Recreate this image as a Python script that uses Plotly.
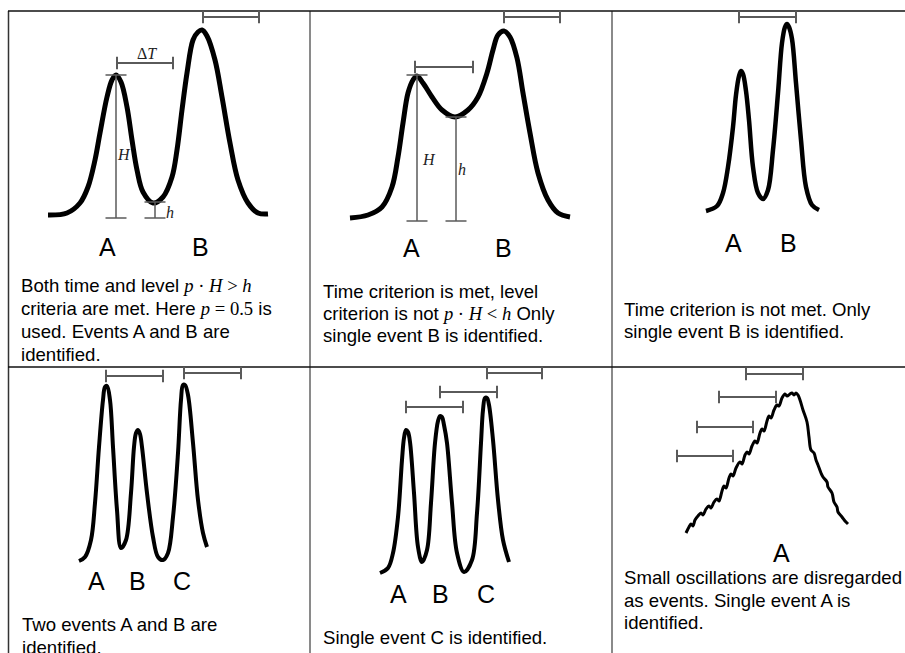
import plotly.graph_objects as go

OFF = 0
W, H = 905, 653

# ---------------- data (time t, level v; level 0 = baseline of each panel) ----------------
# Panel 1: both criteria met
p1_t = [40, 59, 72, 80, 87, 92, 99, 104, 108, 113, 119, 124, 129, 135, 145, 155, 164, 169, 174, 179, 185, 190, 194, 199, 207, 214, 222, 230, 240, 250, 260]
p1_v = [3, 5, 15, 31, 58, 85, 121, 138, 143, 136, 111, 78, 48, 26, 15, 21, 41, 68, 108, 145, 178, 186, 188, 182, 158, 121, 75, 38, 15, 5, 4]
p1_br_start = [109, 195]
p1_br_end = [165, 251]
p1_br_level = [155, 201]
p1_vert_t = [108, 147]
p1_vert_top = [143, 16]

# Panel 2: time met, level not met
p2_t = [40, 58, 72, 82, 88, 93, 98, 103, 107, 113, 122, 132, 145, 158, 168, 177, 183, 188, 194, 200, 207, 213, 220, 228, 238, 248, 260]
p2_v = [3, 6, 14, 34, 64, 98, 128, 141, 145, 138, 124, 111, 104, 111, 124, 148, 171, 186, 190, 184, 163, 128, 88, 48, 21, 8, 4]
p2_br_start = [105, 194]
p2_br_end = [163, 250]
p2_br_level = [154, 204]
p2_vert_t = [107, 146]
p2_vert_top = [146, 104]

# Panel 3: time criterion not met
p3_t = [94, 105, 111, 116, 121, 124, 127, 129, 131, 134, 137, 141, 146, 151, 156, 161, 166, 170, 173, 175, 177, 180, 184, 189, 194, 200, 207]
p3_v = [4, 9, 22, 48, 88, 120, 139, 144, 141, 124, 95, 48, 22, 16, 25, 65, 122, 172, 188, 191, 188, 176, 132, 75, 28, 10, 5]
p3_br_start = [127]
p3_br_end = [184]
p3_br_level = [198]

# Panel 4: A, B, C -> two events
p4_t = [71, 77, 83, 87, 91, 95, 97, 99, 102, 105, 109, 113, 118, 123, 126, 128, 130, 132, 134, 139, 145, 150, 155, 160, 165, 170, 173, 175, 177, 180, 185, 190, 195, 199]
p4_v = [4, 8, 25, 62, 118, 165, 178, 179, 165, 118, 55, 17, 25, 72, 118, 132, 135, 131, 118, 72, 28, 8, 5, 12, 48, 112, 165, 180, 180, 170, 122, 65, 32, 18]
p4_br_start = [98, 176]
p4_br_end = [155, 233]
p4_br_level = [189, 192]

# Panel 5: A, B, C -> single event C
p5_t = [70, 78, 83, 88, 92, 94, 96, 98, 100, 104, 108, 112, 117, 121, 125, 128, 130, 132, 134, 137, 142, 147, 154, 162, 167, 171, 173, 175, 177, 179, 183, 188, 193, 199]
p5_v = [2, 7, 22, 58, 115, 137, 145, 143, 133, 82, 28, 13, 25, 72, 132, 154, 159, 158, 150, 132, 72, 22, 3, 15, 62, 132, 165, 177, 177, 170, 135, 75, 35, 13]
p5_br_start = [96, 130, 177]
p5_br_end = [153, 187, 232]
p5_br_level = [168, 183, 202]

# Panel 6: small oscillations
p6_t = [74, 77, 79, 81, 83, 86, 89, 91, 94, 97, 99, 102, 105, 107, 110, 112, 114, 117, 119, 121, 124, 128, 130, 133, 135, 137, 140, 143, 145, 148, 150, 152, 155, 157, 159, 162, 165, 167, 170, 173, 175, 178, 180, 182, 184, 186,
        188, 191, 195, 197, 199, 202, 204, 206, 209, 211, 215, 216, 220, 222, 225, 226, 230, 233, 236]
p6_v = [7, 13, 16, 14, 20, 24, 27, 25, 31, 34, 32, 38, 41, 39, 49, 54, 52, 62, 66, 64, 72, 78, 76, 85, 88, 86, 94, 99, 97, 107, 111, 109, 119, 124, 122, 130, 135, 134, 142, 146, 144, 146, 147, 145, 147, 145,
        140, 130, 118, 103, 90, 87, 80, 75, 67, 63, 58, 53, 47, 38, 33, 28, 23, 19, 16]
p6_br_start = [134, 107, 85, 65]
p6_br_end = [191, 164, 141, 121]
p6_br_level = [166, 143, 113, 84]

# labels
MATH = "font-family:Liberation Serif"
p1_text = ["Both time and level <span style=\"%s\"><i>p</i> · <i>H</i> &gt; <i>h</i></span>" % MATH,
           "criteria are met. Here <span style=\"%s\"><i>p</i> = 0.5</span> is" % MATH,
           "used. Events A and B are",
           "identified."]
p2_text = ["Time criterion is met, level",
           "criterion is not <span style=\"%s\"><i>p</i> · <i>H</i> &lt; <i>h</i></span> Only" % MATH,
           "single event B is identified."]
p3_text = ["Time criterion is not met. Only", "single event B is identified."]
p4_text = ["Two events A and B are", "identified."]
p5_text = ["Single event C is identified."]
p6_text = ["Small oscillations are disregarded", "as events. Single event A is", "identified."]

# ---------------- layout geometry (window pixels) ----------------
def X(px):
    return (px - OFF) / W

def Y(py):
    return 1 - (py - OFF) / H

COLS = [(8, 310), (310, 612), (612, 905)]
ROWS = [(11, 367), (367, 653)]
panels = [
    dict(col=0, row=0, base=218, t=p1_t, v=p1_v, lw=5, br=(p1_br_start, p1_br_end, p1_br_level), vert=(p1_vert_t, p1_vert_top),
         text=p1_text, tx=20, tb=[292, 315, 338, 361],
         labels=[("A", 107, 247), ("B", 200, 247)]),
    dict(col=1, row=0, base=221, t=p2_t, v=p2_v, lw=5, br=(p2_br_start, p2_br_end, p2_br_level), vert=(p2_vert_t, p2_vert_top),
         text=p2_text, tx=322, tb=[298, 320, 342],
         labels=[("A", 411, 248), ("B", 503, 248)]),
    dict(col=2, row=0, base=215, t=p3_t, v=p3_v, lw=4.5, br=(p3_br_start, p3_br_end, p3_br_level), vert=None,
         text=p3_text, tx=623, tb=[316, 338],
         labels=[("A", 733, 243), ("B", 788, 243)]),
    dict(col=0, row=1, base=565, t=p4_t, v=p4_v, lw=4, br=(p4_br_start, p4_br_end, p4_br_level), vert=None,
         text=p4_text, tx=21, tb=[631, 654],
         labels=[("A", 96, 581), ("B", 137, 581), ("C", 182, 581)]),
    dict(col=1, row=1, base=575, t=p5_t, v=p5_v, lw=4, br=(p5_br_start, p5_br_end, p5_br_level), vert=None,
         text=p5_text, tx=322, tb=[644],
         labels=[("A", 398, 594), ("B", 440, 594), ("C", 486, 594)]),
    dict(col=2, row=1, base=540, t=p6_t, v=p6_v, lw=3, br=(p6_br_start, p6_br_end, p6_br_level), vert=None,
         text=p6_text, tx=623, tb=[584, 607, 629],
         labels=[("A", 781, 553)]),
]

BR_COLOR = "#5a5a5a"
fig = go.Figure()
layout = dict(width=W, height=H, margin=dict(l=0, r=0, t=0, b=0), showlegend=False,
              paper_bgcolor="white", plot_bgcolor="rgba(0,0,0,0)")
annotations = []
FS = 18.6
LBL = 25

for i, p in enumerate(panels, start=1):
    x0, x1 = COLS[p["col"]]
    top, bottom = ROWS[p["row"]]
    base = p["base"]
    xa = "x" if i == 1 else "x%d" % i
    ya = "y" if i == 1 else "y%d" % i
    layout["xaxis" if i == 1 else "xaxis%d" % i] = dict(domain=[X(x0), X(x1)], range=[0, x1 - x0], visible=False,
                                                         fixedrange=True, anchor=ya)
    layout["yaxis" if i == 1 else "yaxis%d" % i] = dict(domain=[Y(bottom), Y(top)], range=[base - bottom, base - top],
                                                         visible=False, fixedrange=True, anchor=xa)
    # curve
    fig.add_trace(go.Scatter(x=p["t"], y=p["v"], mode="lines", xaxis=xa, yaxis=ya,
                             line=dict(color="black", width=p["lw"], shape="spline", smoothing=1.0),
                             cliponaxis=False, hoverinfo="skip"))
    # horizontal brackets (time window)
    bs, be, bl = p["br"]
    for s, e, lv in zip(bs, be, bl):
        fig.add_trace(go.Scatter(x=[s, e], y=[lv, lv], mode="lines+markers", xaxis=xa, yaxis=ya,
                                 line=dict(color=BR_COLOR, width=2),
                                 marker=dict(symbol="line-ns-open", size=9, color=BR_COLOR, line=dict(width=2, color=BR_COLOR)),
                                 cliponaxis=False, hoverinfo="skip"))
    # vertical level markers
    if p["vert"]:
        for tv, tp in zip(*p["vert"]):
            fig.add_trace(go.Scatter(x=[tv, tv], y=[0, tp], mode="lines+markers", xaxis=xa, yaxis=ya,
                                     line=dict(color=BR_COLOR, width=1.5),
                                     marker=dict(symbol="line-ew-open", size=15, color=BR_COLOR, line=dict(width=1.5, color=BR_COLOR)),
                                     cliponaxis=False, hoverinfo="skip"))
    # description text
    for line, bl_y in zip(p["text"], p["tb"]):
        annotations.append(dict(text=line, xref="paper", yref="paper", x=X(p["tx"]), y=Y(bl_y - 0.34 * FS),
                                xanchor="left", yanchor="middle", showarrow=False, borderpad=0,
                                font=dict(family="Liberation Sans, Arial", size=FS, color="black")))
    # event labels
    for s, lx, ly in p["labels"]:
        annotations.append(dict(text=s, xref="paper", yref="paper", x=X(lx), y=Y(ly),
                                xanchor="center", yanchor="middle", showarrow=False, borderpad=0,
                                font=dict(family="Liberation Sans, Arial", size=LBL, color="black")))

# math labels inside panels 1 and 2
serif = "Liberation Serif, DejaVu Serif, serif"
for txt, lx, ly, fs in [("Δ<i>T</i>", 147, 54, 16), ("<i>H</i>", 123.5, 154, 16), ("<i>h</i>", 170, 212, 16),
                        ("<i>H</i>", 429, 159, 16), ("<i>h</i>", 462, 169, 16)]:
    annotations.append(dict(text=txt, xref="paper", yref="paper", x=X(lx), y=Y(ly),
                            xanchor="center", yanchor="middle", showarrow=False, borderpad=0,
                            font=dict(family=serif, size=fs, color="#222")))

# table grid
def hline(y, color, w):
    return dict(type="line", xref="paper", yref="paper", x0=X(8), x1=X(905), y0=Y(y), y1=Y(y),
                line=dict(color=color, width=w), layer="below")

def vline(x, color, w):
    return dict(type="line", xref="paper", yref="paper", x0=X(x), x1=X(x), y0=Y(653), y1=Y(11),
                line=dict(color=color, width=w), layer="below")

layout["shapes"] = [vline(310, "#8a8a8a", 2), vline(612, "#8a8a8a", 2), vline(8.5, "#333333", 1.5),
                    hline(11, "#111111", 1.5), hline(367, "#111111", 1.5)]
layout["annotations"] = annotations
fig.update_layout(**layout)
fig.write_html("out.html", config={"displayModeBar": False, "staticPlot": True},
               post_script="document.body.style.margin='0px';document.documentElement.style.overflow='hidden';")
